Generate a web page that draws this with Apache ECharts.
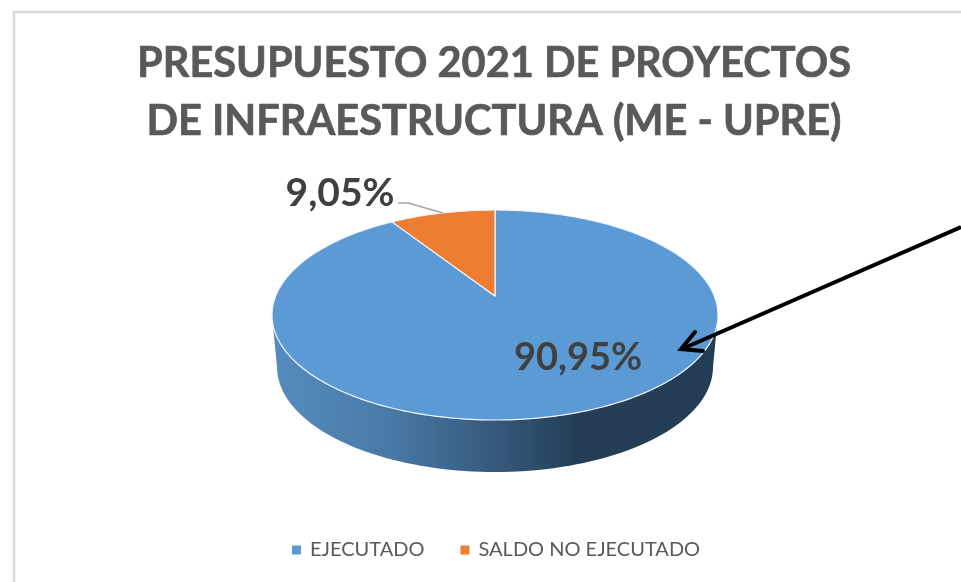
<!DOCTYPE html>
<html><head><meta charset="utf-8">
<style>html,body{margin:0;padding:0;background:#fff}#c{width:961px;height:582px}</style>
<script src="https://cdn.jsdelivr.net/npm/echarts@6/dist/echarts.min.js"></script>
</head><body><div id="c"></div>
<script>
const categories = ['EJECUTADO', 'SALDO NO EJECUTADO'];
const values = [90.95, 9.05];
const colors = ['#5b9ad5', '#ed7d31'];
const titleLines = ['PRESUPUESTO 2021 DE PROYECTOS', 'DE INFRAESTRUCTURA (ME - UPRE)'];

const P = {cx:495, cy:315, rx:223, ry:105, apexY:296, k:0.46, wallCy:367, wallRx:218};
const labelPos = [[578,358],[340,193]];
const labelSize = [38,39];
const total = values.reduce((a,b)=>a+b,0);
function edge(deg){
  const a = deg*Math.PI/180, dx=Math.sin(a), dy=-Math.cos(a)*P.k, d=P.apexY-P.cy;
  const A=dx*dx/(P.rx*P.rx)+dy*dy/(P.ry*P.ry), B=2*d*dy/(P.ry*P.ry), C=d*d/(P.ry*P.ry)-1;
  const t=(-B+Math.sqrt(B*B-4*A*C))/(2*A);
  return [P.cx+t*dx, P.apexY+t*dy];
}
function wallPoints(){
  const pts=[];
  for(let i=0;i<=180;i+=2){const a=i*Math.PI/180;pts.push([P.cx+P.rx*Math.cos(a),P.cy+P.ry*Math.sin(a)]);}
  for(let i=180;i>=0;i-=2){const a=i*Math.PI/180;pts.push([P.cx+P.wallRx*Math.cos(a),P.wallCy+P.ry*Math.sin(a)]);}
  return pts;
}
function render(idx){
  return function(params, api){
    const v = api.value(0);
    let start=0; for(let i=0;i<idx;i++) start+=values[i];
    const a0=start/total*360, a1=(start+v)/total*360;
    const pts=[[P.cx,P.apexY]];
    for(let a=a0;a<a1;a+=1) pts.push(edge(a));
    pts.push(edge(a1));
    const children=[];
    if(idx===0){
      children.push({type:'polygon',shape:{points:wallPoints()},style:{
        fill:new echarts.graphic.LinearGradient(0,0,1,0,[
          {offset:0,color:'#558cbf'},{offset:0.25,color:'#4a7ba7'},{offset:0.5,color:'#36597c'},
          {offset:0.68,color:'#243f55'},{offset:1,color:'#233e54'}]),stroke:null}});
    }
    children.push({type:'polygon',shape:{points:pts},style:{fill:colors[idx],stroke:'#f2f6fb',lineWidth:1.2,lineJoin:'round'}});
    children.push({type:'text',z2:10,style:{x:labelPos[idx][0],y:labelPos[idx][1],
      text:v.toFixed(2).replace('.',',')+'%',fill:'#404040',
      font:'bold '+labelSize[idx]+'px Lato, "Open Sans", sans-serif',align:'center',verticalAlign:'middle'}});
    return {type:'group',children};
  };
}
const chart = echarts.init(document.getElementById('c'),null,{renderer:'canvas'});
chart.setOption({
  animation:false,
  backgroundColor:'#fff',
  title:{text:titleLines.join('\n'),left:489,top:30,textAlign:'center',
    textStyle:{fontFamily:'Lato',fontWeight:'bold',fontSize:41.5,lineHeight:58,color:'#595959',
      textBorderColor:'#595959',textBorderWidth:0.7}},
  legend:{data:categories,left:287,top:535,icon:'rect',itemWidth:9,itemHeight:9,itemGap:36,
    textStyle:{fontFamily:'Lato',fontSize:20,color:'#595959',padding:[0,0,0,4]}},
  graphic:[
    {type:'rect',z:-1,shape:{x:14,y:12,width:1000,height:700},style:{fill:'#fff',stroke:'#d9d9d9',lineWidth:2.5}},
    {type:'polyline',z:50,shape:{points:[[398,203],[408,203],[443,213]]},style:{stroke:'#a6a6a6',lineWidth:1.5,fill:null}},
    {type:'line',z:50,shape:{x1:961,y1:227,x2:682,y2:349},style:{stroke:'#000',lineWidth:4}},
    {type:'polyline',z:50,shape:{points:[[695,332],[681,349],[703,351]]},style:{stroke:'#000',lineWidth:4,fill:null,lineCap:'round',lineJoin:'miter'}}
  ],
  series:categories.map((n,i)=>({
    type:'custom',name:n,coordinateSystem:'none',clip:false,silent:true,
    itemStyle:{color:colors[i]},
    data:[[values[i]]],renderItem:render(i),z:2+i
  }))
});
</script></body></html>
